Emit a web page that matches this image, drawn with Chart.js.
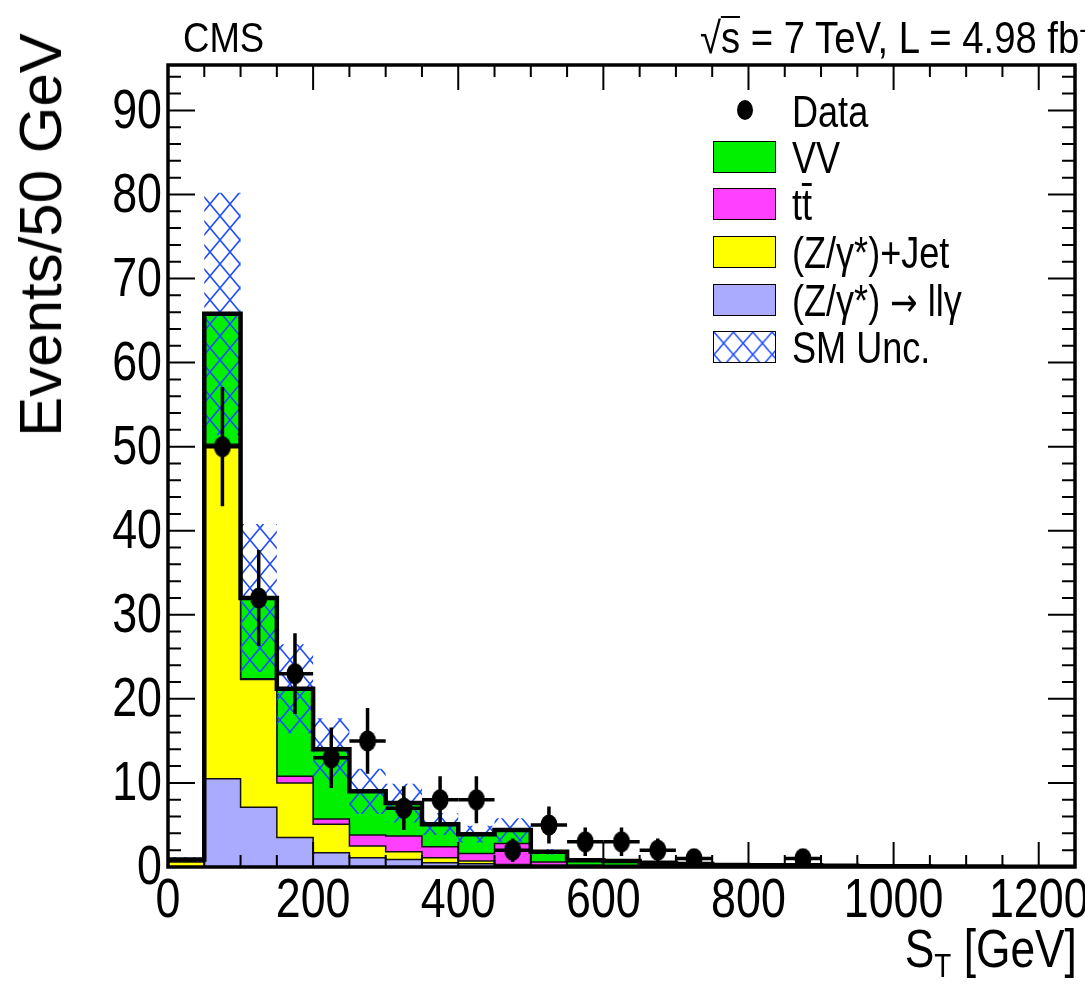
<!DOCTYPE html>
<html>
<head>
<meta charset="utf-8">
<script src="https://cdn.jsdelivr.net/npm/chart.js@4.4.0/dist/chart.umd.min.js"></script>
<style>
  html, body { margin: 0; padding: 0; background: #fff; }
  body { width: 1085px; height: 984px; overflow: hidden; position: relative;
         font-family: 'Liberation Sans', Arial, sans-serif; color: #000; }
  #c { position: absolute; left: 0; top: 0; }
  .txt { position: absolute; white-space: nowrap; line-height: 1; }
  .narrow { transform: scaleX(0.87); transform-origin: left center; }
  .sw { position: absolute; left: 713px; width: 63px; height: 32px; border: 1.5px solid #000; box-sizing: border-box; }
  .lt { position: absolute; left: 792px; font-size: 44px; line-height: 1; white-space: nowrap;
        transform: scaleX(0.82); transform-origin: left center; }
  .bar { position: absolute; left: 0; right: 0; border-top: 3px solid #000; }
</style>
</head>
<body>
<canvas id="c" width="1085" height="984"></canvas>

<!-- titles -->
<div class="txt narrow" style="left:183px; top:17px; font-size:42px;">CMS</div>
<div class="txt narrow" style="left:700px; top:16px; font-size:44px;">&radic;<span style="position:relative">s<span class="bar" style="top:3px; border-top-width:2.5px;"></span></span> = 7 TeV, L = 4.98 fb<sup style="font-size:27px; vertical-align:15px;">-1</sup></div>
<div class="txt" style="left:41px; top:235px; font-size:60px; transform: translate(-50%,-50%) rotate(-90deg);">Events/50 GeV</div>
<div class="txt" style="right:8px; top:921px; font-size:54px; transform: scaleX(0.82); transform-origin: right center;">S<sub style="font-size:34px; vertical-align:-10px;">T</sub> [GeV]</div>

<!-- legend -->
<div style="position:absolute; left:737px; top:100px; width:16px; height:20px; border-radius:50%; background:#000;"></div>
<div class="lt" style="top:90px;">Data</div>
<div class="sw" style="top:141px; background:#00f000;"></div>
<div class="lt" style="top:136px;">VV</div>
<div class="sw" style="top:188px; background:#ff40ff;"></div>
<div class="lt" style="top:183px;">t<span style="position:relative">t<span class="bar" style="top:3px;"></span></span></div>
<div class="sw" style="top:236px; background:#ffff00;"></div>
<div class="lt" style="top:231px;">(Z/&gamma;*)+Jet</div>
<div class="sw" style="top:284px; background:#aaaaff;"></div>
<div class="lt" style="top:279px;">(Z/&gamma;*) <span style="font-family:'DejaVu Sans'; font-size:40px;">&rarr;</span> ll&gamma;</div>
<canvas id="hatchSw" class="sw" width="63" height="32" style="top:331px; background:#fff;"></canvas>
<div class="lt" style="top:326px;">SM Unc.</div>

<script>
// lower edges of the 50 GeV bins
var binLow = [0, 50, 100, 150, 200, 250, 300, 350, 400, 450, 500, 550, 600,
              650, 700, 750, 800, 850, 900, 950, 1000, 1050, 1100, 1150, 1200];
var binWidth = 50;

// stacked backgrounds (events per bin)
var zllg  = [0, 10.5, 7.1, 3.5, 1.7, 1.1, 0.9, 0.5, 0.4, 0.15, 0.15, 0.1, 0.08, 0.05, 0.05, 0.03, 0.02, 0.02, 0.01, 0, 0, 0, 0, 0, 0];
var zjet  = [0.6, 39.5, 15.2, 6.5, 3.4, 1.4, 0.9, 0.6, 0.3, 0.15, 0.1, 0.05, 0.05, 0.03, 0.02, 0.02, 0.01, 0.01, 0, 0, 0, 0, 0, 0, 0];
var ttbar = [0, 0.3, 0.1, 0.8, 0.6, 1.3, 1.9, 1.3, 0.9, 2.5, 0.35, 0.1, 0.07, 0.05, 0.03, 0.02, 0.02, 0.01, 0.01, 0, 0, 0, 0, 0, 0];
var vv    = [0.3, 15.5, 9.6, 10.4, 8.3, 5.2, 3.9, 2.7, 2.3, 1.6, 1.2, 0.55, 0.5, 0.37, 0.25, 0.18, 0.15, 0.16, 0.13, 0.1, 0.08, 0.06, 0.05, 0.04, 0.03];

// SM uncertainty (+/-) on the total
var smUnc = [0.3, 14.4, 8.8, 5.3, 3.7, 2.7, 2.3, 1.3, 1.0, 1.4, 0.3, 0.2, 0.15, 0.1, 0.08, 0.06, 0.05, 0.05, 0.04, 0.03, 0.02, 0.02, 0.01, 0.01, 0.01];

// data
var dataCounts = [null, 50, 32, 23, 13, 15, 7, 8, 8, 2, 5, 3, 3, 2, 1, null, null, 1, null, null, null, null, null, null, null];
var dataErr    = [0, 7.1, 5.7, 4.8, 3.6, 3.9, 2.6, 2.8, 2.8, 1.4, 2.2, 1.7, 1.7, 1.4, 1.0, 0, 0, 1.0, 0, 0, 0, 0, 0, 0, 0];

// axis ticks
var xTicksMajor = [0, 200, 400, 600, 800, 1000, 1200];
var yTicksMajor = [0, 10, 20, 30, 40, 50, 60, 70, 80, 90];

// cumulative stack
var c1 = zllg.slice();
var c2 = c1.map(function (v, i) { return v + zjet[i]; });
var c3 = c2.map(function (v, i) { return v + ttbar[i]; });
var c4 = c3.map(function (v, i) { return v + vv[i]; });
var uncHi = c4.map(function (v, i) { return v + smUnc[i]; });
var uncLo = c4.map(function (v, i) { return Math.max(0, v - smUnc[i]); });

// stepped histogram points (bin low edge + closing edge)
function steps(arr) {
  var pts = binLow.map(function (x, i) { return { x: x, y: arr[i] }; });
  pts.push({ x: binLow[binLow.length - 1] + binWidth, y: arr[arr.length - 1] });
  return pts;
}

function hatchTile(ctxTarget) {
  var c = document.createElement('canvas');
  c.width = 20; c.height = 24;
  var g = c.getContext('2d');
  g.strokeStyle = '#1f4cff';
  g.lineWidth = 1.6;
  g.beginPath();
  g.moveTo(0, 0); g.lineTo(20, 24);
  g.moveTo(20, 0); g.lineTo(0, 24);
  g.stroke();
  return ctxTarget.createPattern(c, 'repeat');
}

var ctx = document.getElementById('c').getContext('2d');
var hatch = hatchTile(ctx);

// legend swatch for the uncertainty
var sw = document.getElementById('hatchSw').getContext('2d');
sw.fillStyle = hatchTile(sw);
sw.fillRect(0, 0, 63, 32);

// data marker (slightly tall ellipse, like the original)
var marker = document.createElement('canvas');
marker.width = 18; marker.height = 22;
var mg = marker.getContext('2d');
mg.fillStyle = '#000';
mg.beginPath();
mg.ellipse(9, 11, 8.5, 10.5, 0, 0, Math.PI * 2);
mg.fill();

var errorBars = {
  id: 'errorBars',
  beforeDatasetDraw: function (chart, args) {
    if (args.index !== 0) return;
    var xs = chart.scales.x, ys = chart.scales.y, g = chart.ctx;
    g.save();
    g.strokeStyle = '#000';
    g.lineWidth = 3.5;
    dataCounts.forEach(function (v, i) {
      if (v === null) return;
      var cx = xs.getPixelForValue(binLow[i] + binWidth / 2);
      var cy = ys.getPixelForValue(v);
      g.beginPath();
      g.moveTo(xs.getPixelForValue(binLow[i]), cy);
      g.lineTo(xs.getPixelForValue(binLow[i] + binWidth), cy);
      g.moveTo(cx, ys.getPixelForValue(Math.max(0, v - dataErr[i])));
      g.lineTo(cx, ys.getPixelForValue(v + dataErr[i]));
      g.stroke();
    });
    g.restore();
  }
};

// frame with inward ticks on all four sides, plus condensed tick labels
var frame = {
  id: 'frame',
  afterDatasetsDraw: function (chart) {
    var a = chart.chartArea, xs = chart.scales.x, ys = chart.scales.y, g = chart.ctx;
    g.save();
    g.strokeStyle = '#000';
    g.lineWidth = 2;
    g.beginPath();
    for (var xv = 0; xv <= xs.max; xv += 50) {
      var px = xs.getPixelForValue(xv);
      var len = (xv % 200 === 0) ? 25 : 12;
      g.moveTo(px, a.bottom); g.lineTo(px, a.bottom - len);
      g.moveTo(px, a.top); g.lineTo(px, a.top + len);
    }
    for (var yv = 0; yv <= ys.max; yv += 2) {
      var py = ys.getPixelForValue(yv);
      var l2 = (yv % 10 === 0) ? 27 : 13;
      g.moveTo(a.left, py); g.lineTo(a.left + l2, py);
      g.moveTo(a.right, py); g.lineTo(a.right - l2, py);
    }
    g.stroke();
    g.lineWidth = 3.5;
    g.strokeRect(a.left, a.top, a.right - a.left, a.bottom - a.top);

    g.fillStyle = '#000';
    g.font = "56px 'Liberation Sans', Arial, sans-serif";
    g.textBaseline = 'middle';
    ys.ticks.forEach(function (t) {
      g.save();
      g.translate(a.left - 6, ys.getPixelForValue(t.value) + 2);
      g.scale(0.8, 1);
      g.textAlign = 'right';
      g.fillText(String(t.value), 0, 0);
      g.restore();
    });
    xs.ticks.forEach(function (t) {
      g.save();
      g.translate(xs.getPixelForValue(t.value), a.bottom + 35);
      g.scale(0.8, 1);
      g.textAlign = 'center';
      g.fillText(String(t.value), 0, 0);
      g.restore();
    });
    g.restore();
  }
};

function stackSet(label, arr, color, fillTo, order) {
  return {
    label: label,
    data: steps(arr),
    stepped: 'before',
    borderColor: '#111',
    borderWidth: 1.5,
    backgroundColor: color,
    fill: fillTo,
    pointRadius: 0,
    order: order
  };
}

new Chart(ctx, {
  type: 'line',
  data: {
    datasets: [
      {
        label: 'Data',
        data: binLow.map(function (x, i) { return { x: x + binWidth / 2, y: dataCounts[i] }; }),
        showLine: false,
        pointStyle: marker,
        pointRadius: 9,
        order: 0
      },
      {
        label: 'total',
        data: steps(c4),
        stepped: 'before',
        borderColor: '#000',
        borderWidth: 4.5,
        fill: false,
        pointRadius: 0,
        order: 1
      },
      {
        label: 'SM Unc.',
        data: steps(uncHi),
        stepped: 'before',
        borderWidth: 0,
        borderColor: 'rgba(0,0,0,0)',
        backgroundColor: hatch,
        fill: 3,
        pointRadius: 0,
        order: 2
      },
      {
        label: 'unc lo',
        data: steps(uncLo),
        stepped: 'before',
        borderWidth: 0,
        borderColor: 'rgba(0,0,0,0)',
        fill: false,
        pointRadius: 0,
        order: 3
      },
      stackSet('(Z/γ*) → llγ', c1, '#aaaaff', 'origin', 4),
      stackSet('(Z/γ*)+Jet', c2, '#ffff00', 4, 5),
      stackSet('tt̄', c3, '#ff40ff', 5, 6),
      stackSet('VV', c4, '#00f000', 6, 7)
    ]
  },
  options: {
    responsive: false,
    animation: false,
    layout: { padding: { top: 65, right: 8, left: 0, bottom: 0 } },
    plugins: { legend: { display: false }, tooltip: { enabled: false } },
    scales: {
      x: {
        type: 'linear',
        min: 0,
        max: 1250,
        grid: { display: false },
        border: { display: false },
        afterBuildTicks: function (s) { s.ticks = xTicksMajor.map(function (v) { return { value: v }; }); },
        afterFit: function (s) { s.height = 117; },
        ticks: { display: false }
      },
      y: {
        min: 0,
        max: 95.4,
        grid: { display: false },
        border: { display: false },
        afterBuildTicks: function (s) { s.ticks = yTicksMajor.map(function (v) { return { value: v }; }); },
        afterFit: function (s) { s.width = 168; },
        ticks: { display: false }
      }
    }
  },
  plugins: [errorBars, frame]
});
</script>
</body>
</html>
